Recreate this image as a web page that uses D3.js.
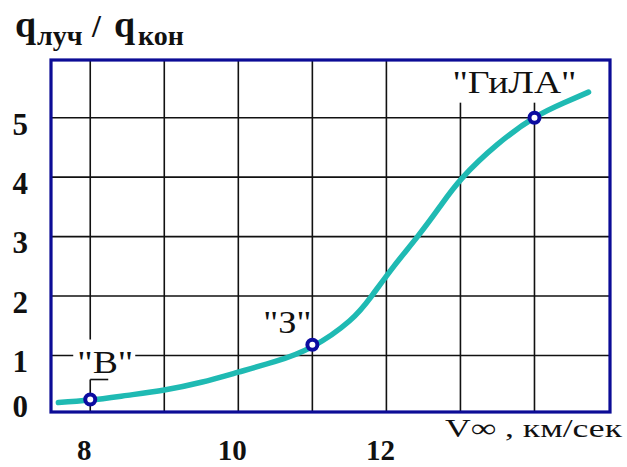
<!DOCTYPE html>
<html>
<head>
<meta charset="utf-8">
<script src="https://cdn.jsdelivr.net/npm/d3@7/dist/d3.min.js"></script>
<style>
  html, body { margin: 0; padding: 0; background: #fff; }
  svg { display: block; }
  text { font-family: "Liberation Serif", "Times New Roman", serif; }
</style>
</head>
<body>
<svg id="chart" width="627" height="467"></svg>
<script>
// ---- data ----
const curveX = [7.57, 8.0, 8.5, 9.0, 9.5, 10.0, 10.5, 11.0, 11.5, 11.8, 12.1, 12.42, 12.72, 13.02, 13.5, 14.0, 14.4, 14.73];
const curveY = [0.21, 0.25, 0.33, 0.42, 0.55, 0.72, 0.90, 1.15, 1.58, 2.00, 2.50, 3.00, 3.50, 3.98, 4.55, 5.00, 5.25, 5.43];
const pointNames = ['"В"', '"З"', '"ГиЛА"'];
const pointX = [8, 11, 14];
const pointY = [0.26, 1.18, 5.0];
const xGridTicks = [8, 9, 10, 11, 12, 13, 14];
const xTickLabels = [8, 10, 12];
const yTicks = [0, 1, 2, 3, 4, 5];
const xAxisTitle = "V\u221E , км/сек";

// ---- scales ----
const svg = d3.select("#chart");
const L = 51, R = 610, T = 60, B = 412;
const x = d3.scaleLinear().domain([7.47, 15.02]).range([L, R]);
const y = d3.scaleLinear().domain([0.05, 5.97]).range([B, T]);

// grid
const g = svg.append("g");
g.selectAll("line.v").data(xGridTicks).enter().append("line")
  .attr("x1", d => x(d)).attr("x2", d => x(d)).attr("y1", T).attr("y2", B)
  .attr("stroke", "#111").attr("stroke-width", 1.6);
g.selectAll("line.h").data(yTicks.filter(d => d > 0)).enter().append("line")
  .attr("x1", L).attr("x2", R).attr("y1", d => y(d)).attr("y2", d => y(d))
  .attr("stroke", "#111").attr("stroke-width", 1.6);

// white boxes behind some labels
const p0 = [x(pointX[0]), y(pointY[0])];
const p2 = [x(pointX[2]), y(pointY[2])];
svg.append("rect").attr("x", p0[0] - 17).attr("y", p0[1] - 60).attr("width", 62).attr("height", 40).attr("fill", "#fff");
svg.append("line").attr("x1", p0[0]).attr("x2", p0[0] + 18).attr("y1", p0[1] - 20).attr("y2", p0[1] - 20)
  .attr("stroke", "#111").attr("stroke-width", 1.6);
svg.append("rect").attr("x", p2[0] - 84).attr("y", T + 1).attr("width", 130).attr("height", p2[1] - 16 - T).attr("fill", "#fff");

// border
svg.append("rect").attr("x", L).attr("y", T).attr("width", R - L).attr("height", B - T)
  .attr("fill", "none").attr("stroke", "#0c0c96").attr("stroke-width", 3.2);

// curve
const line = d3.line().x(d => x(d[0])).y(d => y(d[1])).curve(d3.curveNatural);
svg.append("path").datum(curveX.map((v, i) => [v, curveY[i]]))
  .attr("d", line).attr("fill", "none").attr("stroke", "#1fbab3")
  .attr("stroke-width", 5.5).attr("stroke-linecap", "round").attr("stroke-linejoin", "round");

// markers
svg.selectAll("circle.m").data(pointX).enter().append("circle")
  .attr("cx", d => x(d)).attr("cy", (d, i) => y(pointY[i])).attr("r", 5)
  .attr("fill", "#fff").attr("stroke", "#0c0ca0").attr("stroke-width", 4);

// point labels
const labOff = [[15, -27, 56], [-25, -12, 48], [-20, -25, 124]];
svg.selectAll("text.pl").data(pointNames).enter().append("text")
  .attr("x", (d, i) => x(pointX[i]) + labOff[i][0])
  .attr("y", (d, i) => y(pointY[i]) + labOff[i][1])
  .attr("text-anchor", "middle").attr("font-size", 31).attr("fill", "#111")
  .attr("textLength", (d, i) => labOff[i][2]).attr("lengthAdjust", "spacingAndGlyphs")
  .text(d => d);

// y tick labels
svg.selectAll("text.yt").data(yTicks).enter().append("text")
  .attr("x", 28).attr("y", d => Math.min(y(d) + 6, B - 6))
  .attr("dy", "0.35em")
  .attr("text-anchor", "end").attr("font-size", 31).attr("font-weight", "bold").attr("fill", "#111")
  .text(d => d);

// x tick labels
svg.selectAll("text.xt").data(xTickLabels).enter().append("text")
  .attr("x", d => x(d) - 6).attr("y", 460)
  .attr("text-anchor", "middle").attr("font-size", 29).attr("font-weight", "bold").attr("fill", "#111")
  .text(d => d);

// x axis title
svg.append("text").attr("x", 445).attr("y", 437).attr("font-size", 26).attr("fill", "#111")
  .attr("textLength", 177).attr("lengthAdjust", "spacingAndGlyphs")
  .text(xAxisTitle);

// y axis title
const yt = svg.append("text").attr("y", 37).attr("font-weight", "bold").attr("fill", "#111");
yt.append("tspan").attr("x", 15).attr("font-size", 38).text("q");
yt.append("tspan").attr("x", 37).attr("dy", 8).attr("font-size", 28).text("луч");
yt.append("tspan").attr("x", 92).attr("dy", -8).attr("font-size", 32).text("/");
yt.append("tspan").attr("x", 114).attr("font-size", 38).text("q");
yt.append("tspan").attr("x", 138).attr("dy", 8).attr("font-size", 28).text("кон");
</script>
</body>
</html>
